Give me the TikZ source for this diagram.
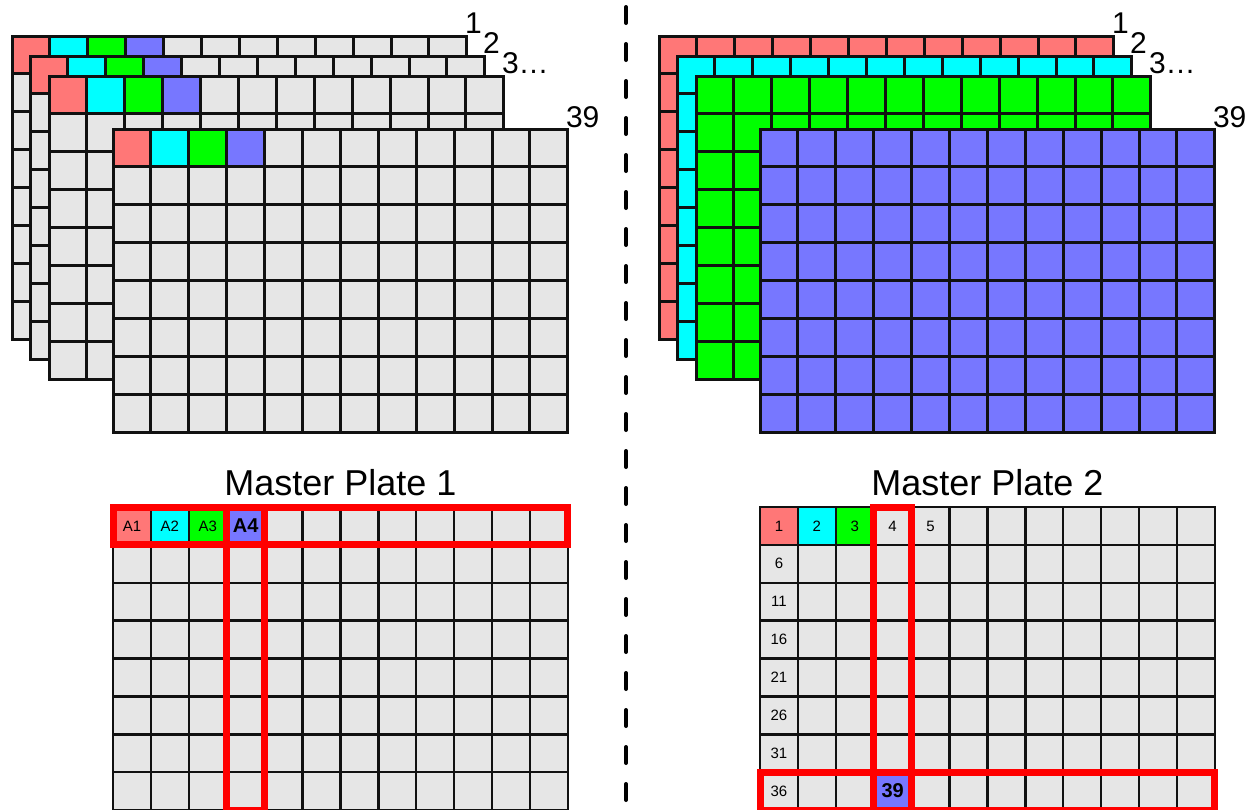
\documentclass[tikz,border=0pt]{standalone}
\usepackage{fontspec}
\setmainfont{Liberation Sans}
\definecolor{cred}{HTML}{FF7777}
\definecolor{ccyan}{HTML}{00FFFF}
\definecolor{cgreen}{HTML}{00FF00}
\definecolor{cblue}{HTML}{7777FF}
\definecolor{cgrey}{HTML}{E6E6E6}
\definecolor{cframe}{HTML}{FF0000}
\definecolor{cline}{HTML}{111111}
% #1 x, #2 y, #3 base fill, #4 line width, #5 extra content in cell coordinates
\newcommand\wellplate[5]{%
\begin{scope}[shift={(#1,#2)}, x=37.9pt, y=-37.875pt]
 \fill[#3] (0,0) rectangle (12,8);
 #5
 \foreach \i in {1,...,11} \draw[cline, line width=#4] (\i,0) -- (\i,8);
 \foreach \j in {1,...,7} \draw[cline, line width=#4] (0,\j) -- (12,\j);
 \draw[cline, line width=#4, line join=miter] (0,0) rectangle (12,8);
\end{scope}}
\newcommand\firstfour{%
 \fill[cred] (0,0) rectangle (1,1);
 \fill[ccyan] (1,0) rectangle (2,1);
 \fill[cgreen] (2,0) rectangle (3,1);
 \fill[cblue] (3,0) rectangle (4,1);}
\tikzset{
 lbl/.style={anchor=base west, inner sep=0pt, font=\fontsize{30pt}{36pt}\selectfont},
 title/.style={anchor=base, inner sep=0pt, font=\fontsize{36pt}{43pt}\selectfont},
 celltxt/.style={inner sep=0pt, font=\fontsize{15pt}{18pt}\selectfont},
 cellbold/.style={inner sep=0pt, font=\fontsize{20pt}{24pt}\selectfont\bfseries},
 frame/.style={draw=cframe, line width=7pt, line join=miter},
 divider/.style={line width=4pt, dash pattern=on 16pt off 21pt, line cap=round}
}
\begin{document}
\begin{tikzpicture}[x=1pt, y=-1pt]
\useasboundingbox (0,0) rectangle (1249,809);
% ---------- left stack ----------
\wellplate{12}{36}{cgrey}{3pt}{\firstfour}
\wellplate{30}{56}{cgrey}{3pt}{\firstfour}
\wellplate{49}{76}{cgrey}{3pt}{\firstfour}
\wellplate{113}{129}{cgrey}{3pt}{\firstfour}
\node[lbl] (lA) at (464.8,33) {1};
\node[lbl] (lB) at (482.8,53) {2};
\node[lbl] (lC) at (501.8,73) {3…};
\node[lbl] (lD) at (565.8,127) {39};
% ---------- right stack ----------
\wellplate{659}{36}{cred}{3pt}{}
\wellplate{677}{56}{ccyan}{3pt}{}
\wellplate{696}{76}{cgreen}{3pt}{}
\wellplate{760}{129}{cblue}{3pt}{}
\node[lbl] (rA) at (1111.8,33) {1};
\node[lbl] (rB) at (1129.8,53) {2};
\node[lbl] (rC) at (1148.8,73) {3…};
\node[lbl] (rD) at (1212.8,127) {39};
% ---------- titles ----------
\node[title] (t1) at (340.4,495) {Master Plate 1};
\node[title] (t2) at (987.4,495) {Master Plate 2};
% ---------- master plate 1 ----------
\wellplate{113}{507}{cgrey}{2.5pt}{\firstfour}
\begin{scope}[shift={(113,507)}, x=37.9pt, y=-37.875pt]
 \node[celltxt] (a1) at (0.5,0.5) {A1};
 \node[celltxt] (a2) at (1.5,0.5) {A2};
 \node[celltxt] (a3) at (2.5,0.5) {A3};
 \node[cellbold] (a4) at (3.5,0.5) {A4};
 \draw[frame] (0,0) rectangle (12,1);
 \draw[frame] (3,0) rectangle (4,8);
\end{scope}
% ---------- master plate 2 ----------
\wellplate{760}{507}{cgrey}{2.5pt}{%
 \fill[cred] (0,0) rectangle (1,1);
 \fill[ccyan] (1,0) rectangle (2,1);
 \fill[cgreen] (2,0) rectangle (3,1);
 \fill[cblue] (3,7) rectangle (4,8);}
\begin{scope}[shift={(760,507)}, x=37.9pt, y=-37.875pt]
 \foreach \c/\t in {0/1,1/2,2/3,3/4,4/5}
   \node[celltxt] (n\t) at (\c+0.5,0.5) {\t};
 \foreach \r/\t in {1/6,2/11,3/16,4/21,5/26,6/31,7/36}
   \node[celltxt] (n\t) at (0.5,\r+0.5) {\t};
 \node[cellbold] (n39) at (3.5,7.5) {39};
 \draw[frame] (3,0) rectangle (4,8);
 \draw[frame] (0,7) rectangle (12,8);
\end{scope}
% ---------- divider ----------
\coordinate (divtop) at (626,7);
\coordinate (divbot) at (626,812);
\draw[divider] (divtop) -- (divbot);
\end{tikzpicture}
\end{document}
